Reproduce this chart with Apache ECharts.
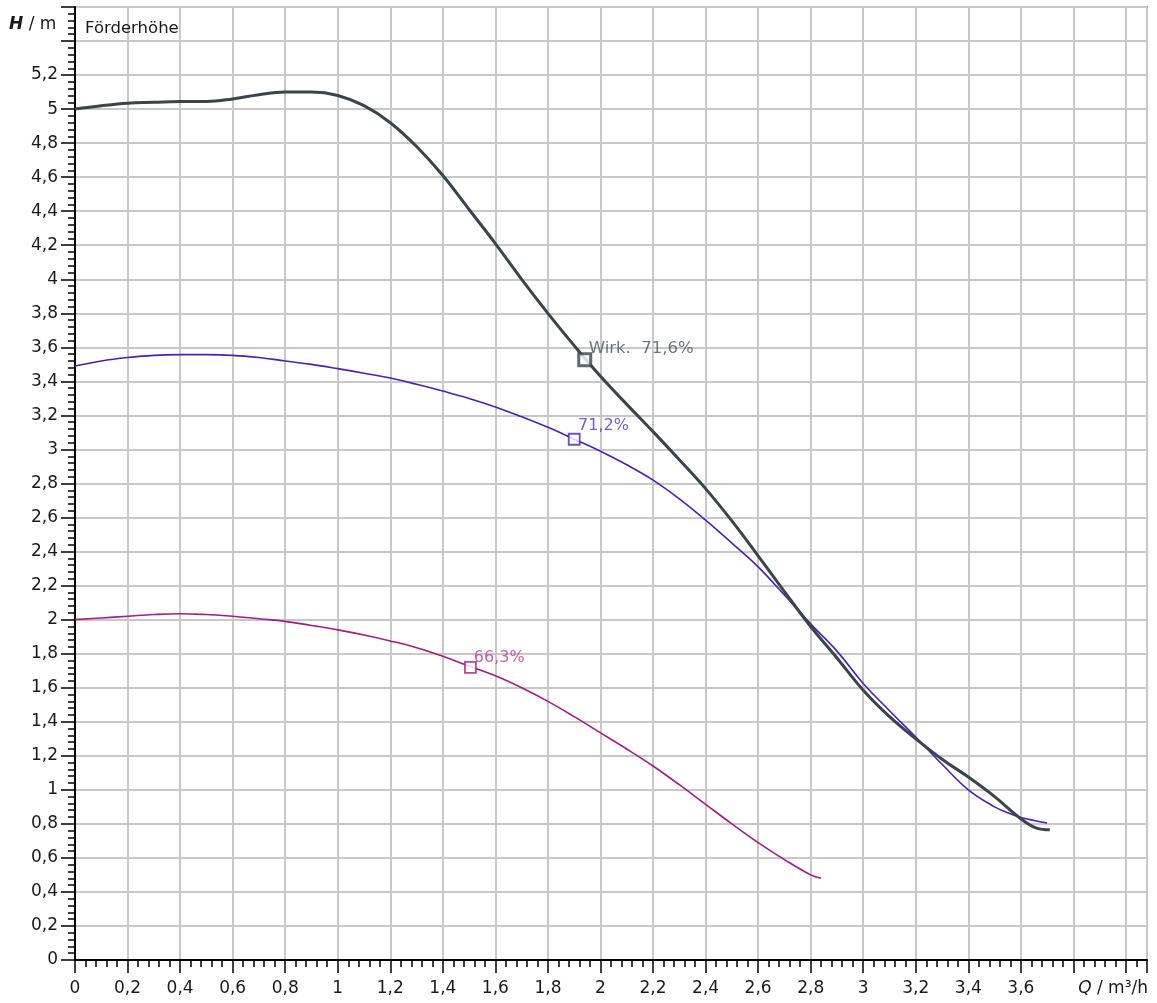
<!DOCTYPE html>
<html>
<head>
<meta charset="utf-8">
<script src="https://cdn.jsdelivr.net/npm/echarts@6/dist/echarts.min.js"></script>
<style>
html,body{margin:0;padding:0;background:#fff;}
#c{width:1157px;height:1003px;}
</style>
</head>
<body>
<div id="c"></div>
<script>
// Q in m³/h, H in m
const qBlack = [0,0.1,0.2,0.3,0.4,0.5,0.6,0.7,0.8,0.9,1.0,1.1,1.2,1.3,1.4,1.5,1.6,1.7,1.8,1.9,2.0,2.1,2.2,2.3,2.4,2.5,2.6,2.7,2.8,2.9,3.0,3.1,3.2,3.3,3.4,3.5,3.6,3.66,3.71];
const hBlack = [5.0,5.02,5.035,5.04,5.045,5.045,5.06,5.085,5.10,5.10,5.08,5.02,4.92,4.78,4.61,4.41,4.21,4.0,3.8,3.61,3.43,3.265,3.105,2.94,2.77,2.58,2.375,2.165,1.96,1.775,1.585,1.43,1.30,1.18,1.075,0.96,0.83,0.775,0.765];

const qBlue = [0,0.1,0.2,0.3,0.4,0.5,0.6,0.7,0.8,0.9,1.0,1.1,1.2,1.3,1.4,1.5,1.6,1.7,1.8,1.9,2.0,2.1,2.2,2.3,2.4,2.5,2.6,2.7,2.8,2.9,3.0,3.1,3.2,3.3,3.4,3.5,3.55,3.6,3.65,3.7];
const hBlue = [3.49,3.52,3.54,3.553,3.557,3.557,3.553,3.54,3.52,3.50,3.475,3.448,3.42,3.383,3.343,3.30,3.25,3.192,3.13,3.06,2.99,2.91,2.82,2.71,2.585,2.45,2.31,2.145,1.975,1.815,1.625,1.465,1.31,1.15,1.0,0.9,0.865,0.837,0.82,0.805];

const qMag = [0,0.1,0.2,0.3,0.4,0.5,0.6,0.7,0.8,0.9,1.0,1.1,1.2,1.3,1.4,1.5,1.6,1.7,1.8,1.9,2.0,2.1,2.2,2.3,2.4,2.5,2.6,2.7,2.8,2.84];
const hMag = [2.0,2.01,2.02,2.03,2.035,2.03,2.02,2.005,1.99,1.966,1.94,1.91,1.875,1.835,1.785,1.727,1.67,1.60,1.52,1.43,1.335,1.24,1.14,1.03,0.915,0.80,0.69,0.59,0.50,0.48];

// operating points [Q, H] and labels
const pointBlack = [1.94, 3.527];
const pointBlue = [1.9, 3.06];
const pointMag = [1.505, 1.72];
const labelBlack = 'Wirk.  71,6%';
const labelBlue = '71,2%';
const labelMag = '66,3%';

const curveTitle = 'Förderhöhe';

const FONT = 'DejaVu Sans';
const zip = (a, b) => a.map((v, i) => [v, b[i]]);
const fmt = v => String(+(+v).toFixed(1)).replace('.', ',');

const chart = echarts.init(document.getElementById('c'));
chart.setOption({
  animation: false,
  backgroundColor: '#fff',
  grid: { left: 75, right: 10, top: 7, bottom: 43, show: true, borderColor: '#333', borderWidth: 1.5, backgroundColor: 'transparent' },
  xAxis: {
    type: 'value', min: 0, max: 4.08, interval: 0.2,
    axisLine: { show: true, onZero: false, lineStyle: { color: '#000', width: 2 } },
    axisTick: { show: true, length: 13, lineStyle: { color: '#000', width: 1.5 } },
    minorTick: { show: true, splitNumber: 5, length: 7, lineStyle: { color: '#000', width: 1.5 } },
    splitLine: { show: true, lineStyle: { color: '#c8c8c8', width: 2 } },
    axisLabel: { margin: 20, color: '#1a1a1a', fontFamily: FONT, fontSize: 17, showMaxLabel: false,
      formatter: v => (v > 3.7 ? '' : fmt(v)) }
  },
  yAxis: {
    type: 'value', min: 0, max: 5.6, interval: 0.2,
    axisLine: { show: true, onZero: false, lineStyle: { color: '#000', width: 2 } },
    axisTick: { show: true, length: 14, lineStyle: { color: '#000', width: 1.5 } },
    minorTick: { show: true, splitNumber: 5, length: 7, lineStyle: { color: '#000', width: 1.5 } },
    splitLine: { show: true, lineStyle: { color: '#c8c8c8', width: 2 } },
    axisLabel: { margin: 17, color: '#1a1a1a', fontFamily: FONT, fontSize: 17,
      formatter: v => (v > 5.3 ? '' : fmt(v)) }
  },
  graphic: [
    { type: 'text', left: 9, top: 16, z: 10,
      style: { text: '{i|H} / m', fill: '#1a1a1a', font: '17px "DejaVu Sans"',
        rich: { i: { fontStyle: 'italic', fontWeight: 'bold', fontFamily: FONT, fontSize: 17, fill: '#1a1a1a' } } } },
    { type: 'text', left: 85, top: 20, z: 10,
      style: { text: curveTitle, fill: '#1a1a1a', font: '16.5px "DejaVu Sans"' } },
    { type: 'text', right: 9, top: 980, z: 10,
      style: { text: '{i|Q} / m³/h', fill: '#1a1a1a', font: '17px "DejaVu Sans"',
        rich: { i: { fontStyle: 'italic', fontFamily: FONT, fontSize: 17, fill: '#1a1a1a' } } } }
  ],
  series: [
    { type: 'line', data: zip(qMag, hMag), showSymbol: false, smooth: 0.4, z: 2,
      lineStyle: { color: '#a8198a', width: 1.6 } },
    { type: 'line', data: zip(qBlue, hBlue), showSymbol: false, smooth: 0.4, z: 3,
      lineStyle: { color: '#4a1fc0', width: 1.6 } },
    { type: 'line', data: zip(qBlack, hBlack), showSymbol: false, smooth: 0.4, z: 4,
      lineStyle: { color: '#3a444c', width: 3 } },
    { type: 'scatter', data: [pointMag], symbol: 'rect', symbolSize: 11, z: 6,
      itemStyle: { color: '#fff', borderColor: '#a8198a', borderWidth: 1.8 },
      label: { show: true, position: 'right', distance: 0, offset: [-3, -9.5], formatter: labelMag,
        color: '#b8379e', fontFamily: FONT, fontSize: 16 } },
    { type: 'scatter', data: [pointBlue], symbol: 'rect', symbolSize: 11, z: 6,
      itemStyle: { color: '#fff', borderColor: '#4a1fc0', borderWidth: 1.8 },
      label: { show: true, position: 'right', distance: 0, offset: [-2.5, -13], formatter: labelBlue,
        color: '#5533cc', fontFamily: FONT, fontSize: 16 } },
    { type: 'scatter', data: [pointBlack], symbol: 'rect', symbolSize: 12, z: 7,
      itemStyle: { color: '#fff', borderColor: '#3a444c', borderWidth: 3 },
      label: { show: true, position: 'right', distance: 0, offset: [-3.5, -11.5], formatter: labelBlack,
        color: '#4b5560', fontFamily: FONT, fontSize: 16.5 } }
  ]
});
</script>
</body>
</html>
